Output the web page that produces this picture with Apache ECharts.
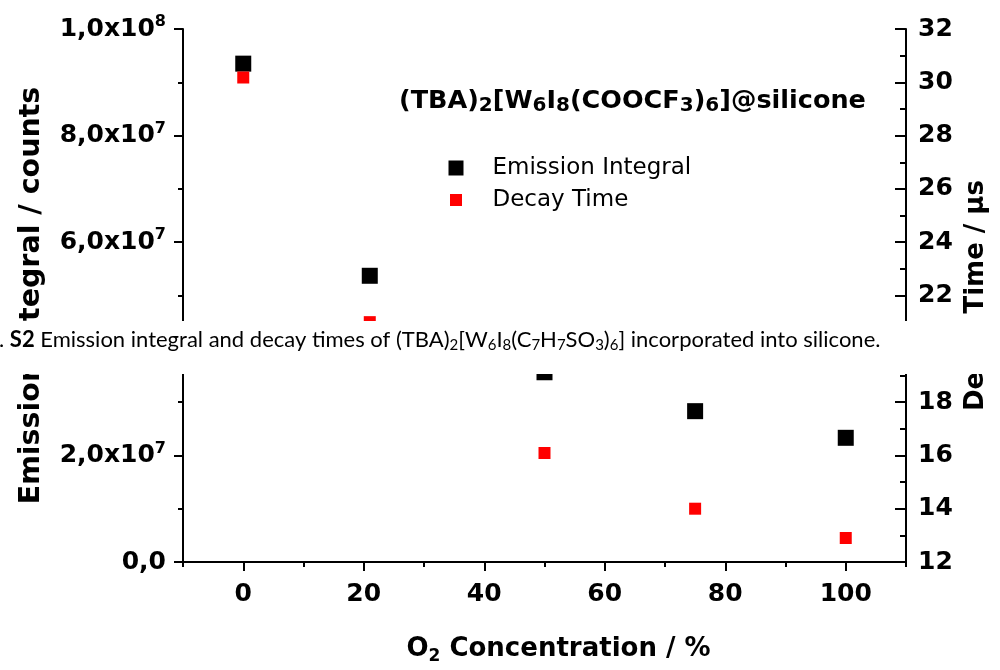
<!DOCTYPE html>
<html>
<head>
<meta charset="utf-8">
<title>Emission integral and decay time vs O2</title>
<script src="https://cdn.jsdelivr.net/npm/echarts@6/dist/echarts.min.js"></script>
<style>
  html, body { margin: 0; padding: 0; background: #fff; }
  #chart { width: 1000px; height: 670px; }
</style>
</head>
<body>
<div id="chart"></div>
<script>
// O2 concentration in %
const concentration = [0, 21, 50, 75, 100]
// emission integral / counts (left axis)
const emissionIntegral = [9.35e7, 5.37e7, 3.56e7, 2.83e7, 2.33e7]
// decay time / µs (right axis)
const decayTime = [30.18, 21.0, 16.09, 14.0, 12.9]

const xMajorTicks = [0, 20, 40, 60, 80, 100]
const xMinorTicks = [-10, 10, 30, 50, 70, 90, 110]

const bold = 'DejaVu Sans'
const captionFont = 'Lato'
const black = '#000'
const red = '#ff0000'

const sciLabel = (v) => {
  if (v === 0) return '0,0'
  const exp = Math.floor(Math.log10(v) + 1e-9)
  const mant = (v / Math.pow(10, exp)).toFixed(1).replace('.', ',')
  return mant + 'x10{sup|' + exp + '}'
}

const axisLine = { show: true, onZero: false, lineStyle: { color: black, width: 2 } }

const chart = echarts.init(document.getElementById('chart'))

chart.setOption({
  animation: false,
  backgroundColor: '#fff',
  grid: { left: 183, right: 94, top: 29, bottom: 107 },
  legend: {
    orient: 'vertical',
    left: 447,
    top: 156,
    padding: 0,
    itemWidth: 15,
    itemHeight: 15,
    itemGap: 8,
    selectedMode: false,
    textStyle: {
      fontFamily: bold,
      fontSize: 23,
      color: black,
      lineHeight: 24,
      padding: [0, 0, 0, 24],
    },
    data: [
      { name: 'Emission Integral', icon: 'rect', itemStyle: { opacity: 1 } },
      { name: 'Decay Time', icon: 'rect', itemStyle: { opacity: 1, borderColor: '#fff', borderWidth: 3 } },
    ],
  },
  xAxis: [
    {
      type: 'value',
      position: 'bottom',
      min: -10,
      max: 110,
      name: 'O{sub|2} Concentration / %',
      nameLocation: 'middle',
      nameGap: 71,
      nameTextStyle: {
        fontFamily: bold,
        fontWeight: 'bold',
        fontSize: 26,
        lineHeight: 32,
        color: black,
        padding: [0, 0, 0, 28],
        rich: { sub: { fontFamily: bold, fontWeight: 'bold', fontSize: 17, lineHeight: 12, verticalAlign: 'bottom' } },
      },
      axisLine: axisLine,
      axisTick: { show: true, length: 9, lineStyle: { color: black, width: 2 }, customValues: xMajorTicks },
      axisLabel: {
        customValues: xMajorTicks,
        margin: 20,
        fontFamily: bold,
        fontWeight: 'bold',
        fontSize: 25,
        color: black,
      },
      splitLine: { show: false },
    },
    {
      type: 'value',
      position: 'bottom',
      min: -10,
      max: 110,
      axisLine: { show: false, onZero: false },
      axisTick: { show: true, length: 5, lineStyle: { color: black, width: 2 }, customValues: xMinorTicks },
      axisLabel: { show: false },
      splitLine: { show: false },
    },
  ],
  yAxis: [
    {
      type: 'value',
      position: 'left',
      min: 0,
      max: 1e8,
      interval: 2e7,
      name: 'Emission Integral / counts',
      nameLocation: 'middle',
      nameGap: 137,
      nameTextStyle: { fontFamily: bold, fontWeight: 'bold', fontSize: 28.5, color: black },
      axisLine: axisLine,
      axisTick: { show: true, length: 9, lineStyle: { color: black, width: 2 } },
      minorTick: { show: true, splitNumber: 2, length: 5, lineStyle: { color: black, width: 2 } },
      axisLabel: {
        margin: 17,
        fontFamily: bold,
        fontWeight: 'bold',
        fontSize: 25,
        lineHeight: 30,
        color: black,
        formatter: sciLabel,
        rich: { sup: { fontFamily: bold, fontWeight: 'bold', fontSize: 16, lineHeight: 12, verticalAlign: 'top' } },
      },
      splitLine: { show: false },
    },
    {
      type: 'value',
      position: 'right',
      min: 12,
      max: 32,
      interval: 2,
      name: 'Decay Time / µs',
      nameLocation: 'middle',
      nameGap: 45,
      nameTextStyle: { fontFamily: bold, fontWeight: 'bold', fontSize: 26, color: black },
      axisLine: axisLine,
      axisTick: { show: true, inside: true, length: 11, lineStyle: { color: black, width: 2 } },
      minorTick: { show: true, splitNumber: 2, length: 6, lineStyle: { color: black, width: 2 } },
      axisLabel: { margin: 12, fontFamily: bold, fontWeight: 'bold', fontSize: 25, color: black },
      splitLine: { show: false },
    },
  ],
  series: [
    {
      name: 'Emission Integral',
      type: 'scatter',
      xAxisIndex: 0,
      yAxisIndex: 0,
      symbol: 'rect',
      symbolSize: 16,
      itemStyle: { color: black, opacity: 1 },
      data: concentration.map((c, i) => [c, emissionIntegral[i]]),
    },
    {
      name: 'Decay Time',
      type: 'scatter',
      xAxisIndex: 0,
      yAxisIndex: 1,
      symbol: 'rect',
      symbolSize: 12,
      itemStyle: { color: red, opacity: 1 },
      data: concentration.map((c, i) => [c, decayTime[i]]),
    },
  ],
  graphic: [
    {
      type: 'text',
      left: 399,
      top: 86,
      style: {
        text: '(TBA){sub|2}[W{sub|6}I{sub|8}(COOCF{sub|3}){sub|6}]@silicone',
        fill: black,
        font: 'bold 25.5px "DejaVu Sans"',
        lineHeight: 30,
        rich: {
          sub: { fontFamily: bold, fontWeight: 'bold', fontSize: 20, lineHeight: 14, verticalAlign: 'bottom', fill: black },
        },
      },
    },
    // caption strip pasted over the middle of the figure
    {
      type: 'rect',
      z: 100,
      shape: { x: 0, y: 321, width: 1000, height: 53 },
      style: { fill: '#fff' },
    },
    {
      type: 'text',
      z: 101,
      x: -1,
      y: 326,
      style: {
        text: '. {b|S2} Emission integral and decay times of (TBA){sub|2}[W{sub|6}I{sub|8}(C{sub|7}H{sub|7}SO{sub|3}){sub|6}] incorporated into silicone.',
        fill: black,
        font: '22px "Lato"',
        lineHeight: 27,
        rich: {
          b: { fontFamily: captionFont, fontWeight: 'bold', fontSize: 22, fill: black },
          sub: { fontFamily: captionFont, fontSize: 15, lineHeight: 10, verticalAlign: 'bottom', fill: black },
        },
      },
    },
  ],
})
</script>
</body>
</html>
